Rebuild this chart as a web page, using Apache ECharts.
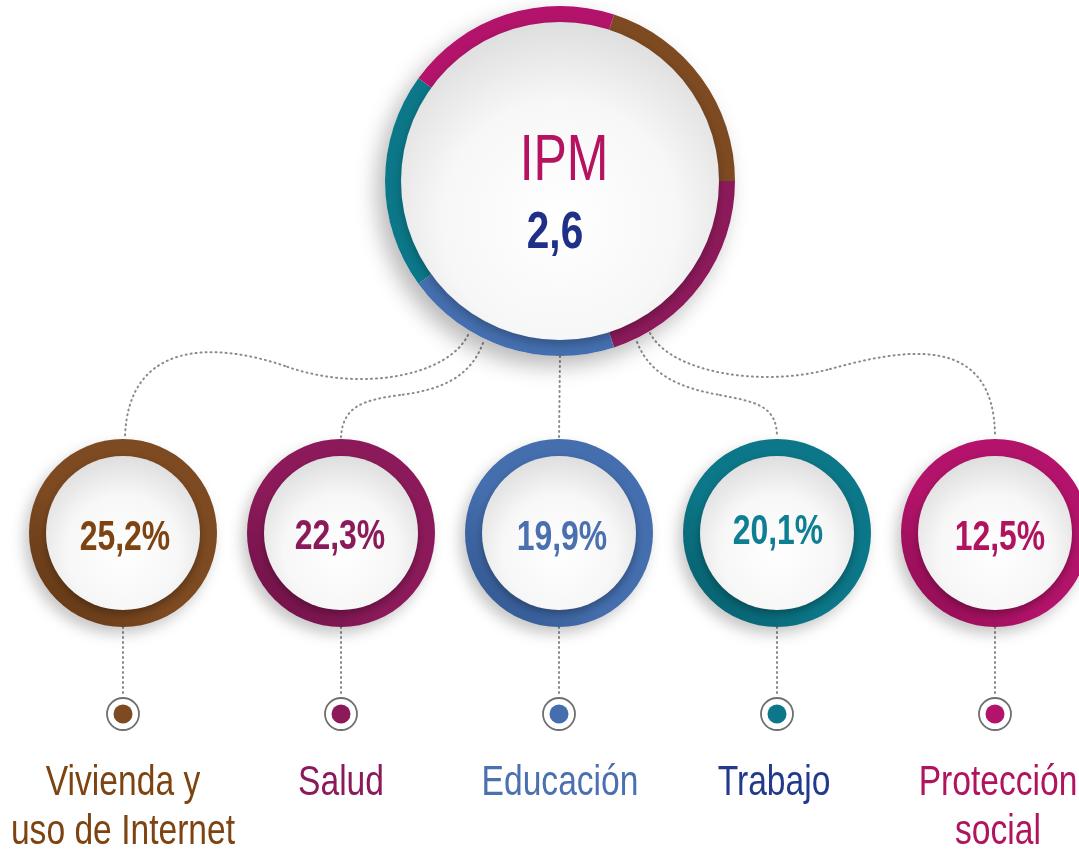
<!DOCTYPE html>
<html>
<head>
<meta charset="utf-8">
<title>IPM por dimensión</title>
<script src="https://cdn.jsdelivr.net/npm/echarts@6/dist/echarts.min.js"></script>
<style>
  html, body { margin: 0; padding: 0; background: #fff; }
  #chart { width: 1079px; height: 856px; }
</style>
</head>
<body>
<div id="chart"></div>
<script>
// datos
const ipmValue = 2.6;
const dimensions = ['Vivienda y\nuso de Internet', 'Salud', 'Educación', 'Trabajo', 'Protección\nsocial'];
const contribution = [25.2, 22.3, 19.9, 20.1, 12.5];
// el anillo del IPM reparte las dimensiones en partes iguales
const dimensionWeight = [20, 20, 20, 20, 20];

// colores
const ringColors = ['#7d4a21', '#8c1a5a', '#446eae', '#0b7788', '#b3136a'];
const ringDark = ['#5e3413', '#6a1043', '#2f528a', '#065a68', '#8a0c4f'];
const pctColors = ['#7d4310', '#8b1a5a', '#4a70b0', '#0e7f92', '#b0145f'];
const labelColors = ['#7d4310', '#8b1a5a', '#4a70b0', '#233a8c', '#b0145f'];

// no hay fuente condensada instalada: se estrecha Liberation Sans
const FONT = "'Liberation Sans', Arial, sans-serif";

// layout
const big = { x: 560, y: 181, r: 175, inner: 159 };
const smallX = [123, 341, 559, 777, 995];
const smallY = 533;
const smallR = 94, smallInner = 77;
const markerY = 714;
const pctX = [125, 340, 562, 778, 1000];
const pctY = [538, 537, 538, 532, 538];
const labelX = [123, 341, 560, 774, 998];

const fmt = v => v.toFixed(1).replace('.', ',');

const diskFill = {
  type: 'radial', x: 0.5, y: 0.62, r: 0.62,
  colorStops: [
    { offset: 0, color: '#ffffff' },
    { offset: 0.6, color: '#f7f7f7' },
    { offset: 1, color: '#dedede' }
  ]
};

const chart = echarts.init(document.getElementById('chart'));
const series = [];

// círculo grande: sombra, anillo segmentado, disco blanco
series.push({
  type: 'pie', silent: true, animation: false, z: 1,
  center: [big.x, big.y], radius: [0, big.r],
  label: { show: false }, labelLine: { show: false },
  itemStyle: { color: '#fff', shadowBlur: 22, shadowColor: 'rgba(0,0,0,0.28)', shadowOffsetX: -8, shadowOffsetY: 10 },
  data: [{ value: 1, name: 'sombra' }]
});
series.push({
  type: 'pie', silent: true, animation: false, z: 2,
  center: [big.x, big.y], radius: [big.inner - 8, big.r],
  startAngle: 72, clockwise: true,
  label: { show: false }, labelLine: { show: false },
  itemStyle: { borderWidth: 0 },
  data: dimensionWeight.map((w, i) => ({ value: w, name: dimensions[i], itemStyle: { color: ringColors[i] } }))
});
series.push({
  type: 'pie', silent: true, animation: false, z: 3,
  center: [big.x, big.y], radius: [0, big.inner],
  label: { show: false }, labelLine: { show: false },
  itemStyle: { color: diskFill, shadowBlur: 10, shadowColor: 'rgba(0,0,0,0.25)', shadowOffsetY: 4 },
  data: [{ value: ipmValue, name: 'IPM' }]
});

// círculos pequeños
contribution.forEach((v, i) => {
  const c = [smallX[i], smallY];
  series.push({
    type: 'pie', silent: true, animation: false, z: 2,
    center: c, radius: [0, smallR],
    label: { show: false }, labelLine: { show: false },
    itemStyle: {
      color: { type: 'linear', x: 1, y: 0, x2: 0, y2: 1,
        colorStops: [{ offset: 0, color: ringColors[i] }, { offset: 0.6, color: ringColors[i] }, { offset: 1, color: ringDark[i] }] },
      shadowBlur: 14, shadowColor: 'rgba(0,0,0,0.22)', shadowOffsetX: -5, shadowOffsetY: 7
    },
    data: [{ value: v, name: dimensions[i] }]
  });
  series.push({
    type: 'pie', silent: true, animation: false, z: 3,
    center: c, radius: [0, smallInner],
    label: { show: false }, labelLine: { show: false },
    itemStyle: { color: diskFill, shadowBlur: 9, shadowColor: 'rgba(0,0,0,0.3)', shadowOffsetY: 4 },
    data: [{ value: v, name: dimensions[i] }]
  });
});

// texto estrecho (scaleX) centrado en x, y = línea media
function narrowText(text, x, y, size, color, weight, sx) {
  return {
    type: 'text', silent: true, z: 10, x: x, y: y, scaleX: sx,
    style: {
      text: text, fill: color,
      font: (weight || 'normal') + ' ' + size + 'px ' + FONT,
      align: 'center', textAlign: 'center', verticalAlign: 'middle', textVerticalAlign: 'middle'
    }
  };
}

// conectores punteados
const dotted = { stroke: '#8a8a8a', lineWidth: 2, lineDash: [1, 4], lineCap: 'round', fill: null };
const curves = [
  [468, 335, 448, 376, 360, 393, 285, 366],
  [285, 366, 215, 342, 128, 340, 125, 437],
  [483, 343, 470, 378, 440, 390, 400, 395],
  [400, 395, 365, 400, 343, 405, 341, 437],
  [637, 342, 650, 375, 680, 388, 720, 395],
  [720, 395, 755, 402, 777, 405, 777, 437],
  [650, 333, 670, 372, 760, 388, 830, 369],
  [830, 369, 900, 350, 995, 330, 995, 437]
];
const elements = curves.map(p => ({
  type: 'bezierCurve', z: 0, silent: true,
  shape: { x1: p[0], y1: p[1], cpx1: p[2], cpy1: p[3], cpx2: p[4], cpy2: p[5], x2: p[6], y2: p[7] },
  style: dotted
}));
elements.push({ type: 'line', z: 0, silent: true, shape: { x1: big.x, y1: big.y + big.r, x2: 559, y2: smallY - smallR }, style: dotted });

// IPM al centro
elements.push(narrowText('IPM', 564, 162, 64, '#b5125f', 'normal', 0.78));
elements.push(narrowText(fmt(ipmValue), 555, 234, 52, '#1f3088', 'bold', 0.78));

smallX.forEach((x, i) => {
  elements.push({ type: 'line', z: 0, silent: true, shape: { x1: x, y1: smallY + smallR, x2: x, y2: markerY - 17 }, style: dotted });
  elements.push({ type: 'circle', silent: true, shape: { cx: x, cy: markerY, r: 16 }, style: { fill: '#fff', stroke: '#6f6f6f', lineWidth: 1.8 } });
  elements.push({ type: 'circle', silent: true, shape: { cx: x, cy: markerY, r: 9.5 }, style: { fill: ringColors[i] } });
  elements.push(narrowText(fmt(contribution[i]) + '%', pctX[i], pctY[i], 42, pctColors[i], 'bold', 0.76));
  dimensions[i].split('\n').forEach((line, k) => {
    elements.push(narrowText(line, labelX[i], 783 + k * 49, 42, labelColors[i], 'normal', 0.8));
  });
});

chart.setOption({
  animation: false,
  backgroundColor: '#ffffff',
  series: series,
  graphic: { elements: elements }
});
</script>
</body>
</html>
